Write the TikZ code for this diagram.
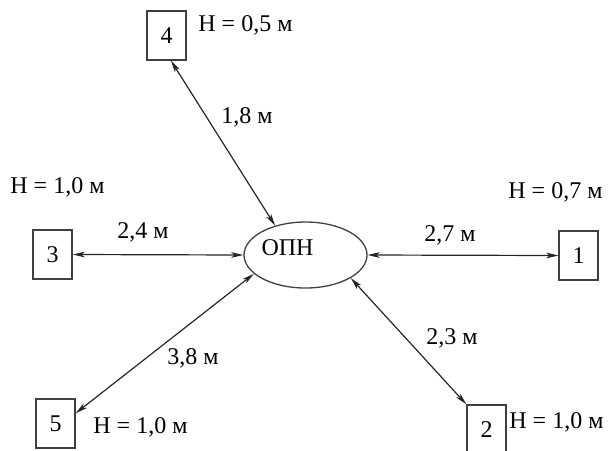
\documentclass[tikz,border=0pt]{standalone}
\usepackage{fontspec}
\setmainfont{Liberation Serif}
\usetikzlibrary{arrows.meta, positioning, shapes.geometric}

\begin{document}
\begin{tikzpicture}[
		x=0.5pt, y=-0.5pt,
		>={Stealth[length=6pt, width=2.8pt, inset=1.5pt]},
		font=\fontsize{12}{14}\selectfont,
		well/.style={draw=black!75, line width=0.65pt, minimum width=19.5pt, minimum height=24.5pt, inner sep=0pt},
		link/.style={<->, draw=black!85, line width=0.6pt},
		hlabel/.style={anchor=west, inner sep=0pt},
		dist/.style={inner sep=0pt}
		]
		\useasboundingbox (0,0) rectangle (608,450);
		
		% ОПН в центре
		\node[ellipse, draw=black!75, line width=0.65pt, minimum width=61.5pt, minimum height=33pt, inner sep=0pt,
			label={[xshift=-9pt, yshift=3.5pt]center:ОПН}] (opn) at (305.5,255) {};
		
		% Скважины
		\node[well] (w1) at (578.5,255.5) {1};
		\node[well] (w2) at (486.5,429.5) {2};
		\node[well] (w3) at (52.5,254.5) {3};
		\node[well] (w4) at (166.5,35.5) {4};
		\node[well] (w5) at (55.5,423.5) {5};
		
		% Высоты
		\node[hlabel] (h1) at (508,192) {Н = 0,7 м};
		\node[hlabel] (h2) at (509,422) {Н = 1,0 м};
		\node[hlabel] (h3) at (10,187) {Н = 1,0 м};
		\node[hlabel] (h4) at (198,25) {Н = 0,5 м};
		\node[hlabel] (h5) at (93,427) {Н = 1,0 м};
		
		% Связи
		\draw[link] (w4.-80) -- (opn.136);
		\draw[link] (w3.east) -- (opn.west);
		\draw[link] (opn.east) -- (w1.west);
		\draw[link] (opn.-27) -- (w2.north west);
		\draw[link] (opn.200) -- (w5.27);
		
		% Расстояния
		\node[dist] (l4) at (247,117) {1,8 м};
		\node[dist] (l3) at (143,232) {2,4 м};
		\node[dist] (l1) at (450,235) {2,7 м};
		\node[dist] (l2) at (452,338) {2,3 м};
		\node[dist] (l5) at (193,358) {3,8 м};
		
	\end{tikzpicture}
\end{document}
